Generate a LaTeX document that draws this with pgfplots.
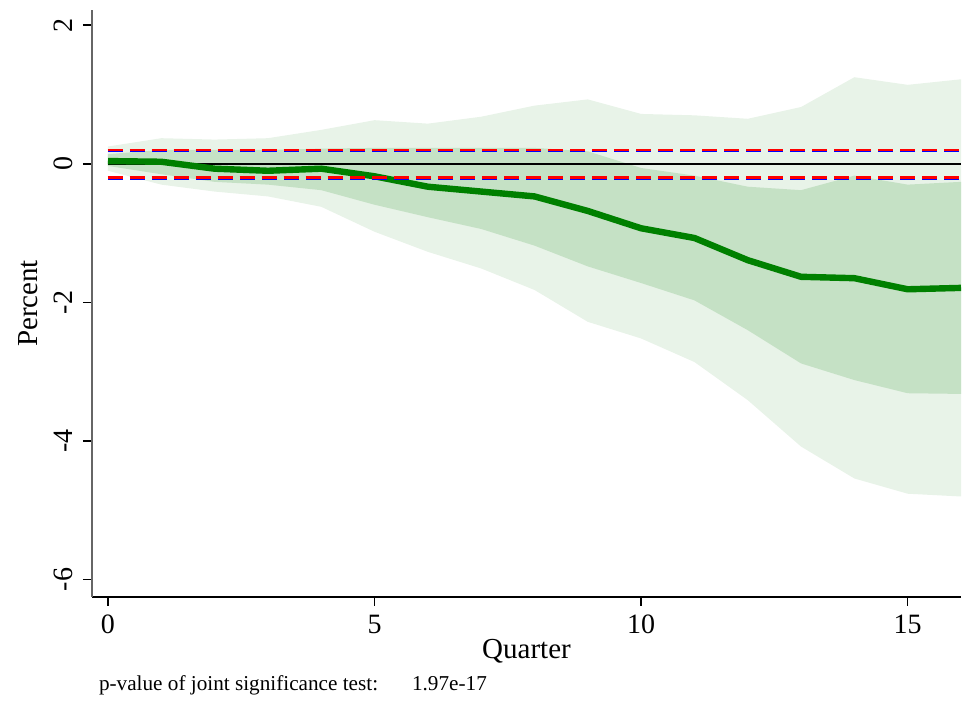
\documentclass[border=0pt]{standalone}
\usepackage{fontspec}
\setmainfont{Liberation Serif}
\usepackage{pgfplots}
\pgfplotsset{compat=1.18}
\usepgfplotslibrary{fillbetween}
\usepackage{pgfplotstable}

\definecolor{bandout}{HTML}{E8F3E8}
\definecolor{bandin}{HTML}{C5E1C5}
\definecolor{irfgreen}{HTML}{008000}

% quarter, response, inner band (lo/hi), outer band (lo/hi)
\pgfplotstableread{
q   irf    il     ih     ol     oh
0   0.04  -0.03   0.14  -0.10   0.25
1   0.03  -0.15   0.20  -0.30   0.37
2  -0.07  -0.26   0.20  -0.40   0.35
3  -0.10  -0.30   0.20  -0.47   0.37
4  -0.07  -0.38   0.22  -0.62   0.49
5  -0.18  -0.59   0.23  -0.98   0.63
6  -0.33  -0.77   0.23  -1.27   0.58
7  -0.40  -0.94   0.23  -1.51   0.68
8  -0.47  -1.18   0.23  -1.82   0.84
9  -0.68  -1.48   0.18  -2.28   0.93
10 -0.93  -1.72  -0.06  -2.52   0.72
11 -1.07  -1.97  -0.17  -2.86   0.70
12 -1.39  -2.40  -0.33  -3.41   0.65
13 -1.63  -2.88  -0.38  -4.08   0.82
14 -1.65  -3.12  -0.17  -4.54   1.25
15 -1.81  -3.31  -0.30  -4.76   1.14
16 -1.79  -3.32  -0.26  -4.80   1.22
}\irf

\begin{document}
\begin{tikzpicture}
\begin{axis}[
    name=ax,
    scale only axis,
    width=434.5pt, height=293.5pt,
    xmin=-0.3, xmax=16,
    ymin=-6.25, ymax=2.22,
    axis x line=bottom, axis y line=left,
    axis line style={-},
    x axis line style={black, line width=0.9pt},
    y axis line style={black!60, line width=1pt},
    xtick={0,5,10,15},
    ytick={-6,-4,-2,0,2},
    tick align=outside,
    major tick length=4.5pt,
    tick style={black, line width=0.8pt},
    ticklabel style={font=\fontsize{14}{16}\selectfont},
    xticklabel style={yshift=-1pt},
    yticklabel style={rotate=90, anchor=south, yshift=1.5pt},
    /pgf/number format/assume math mode=true,
    xlabel={Quarter},
    ylabel={Percent},
    label style={font=\fontsize{14.5}{16}\selectfont},
    xlabel style={yshift=4pt},
    ylabel style={yshift=1.5pt},
    clip=false,
]
\addplot[draw=none, name path=oh] table[x=q, y=oh] {\irf};
\addplot[draw=none, name path=ol] table[x=q, y=ol] {\irf};
\addplot[draw=none, name path=ih] table[x=q, y=ih] {\irf};
\addplot[draw=none, name path=il] table[x=q, y=il] {\irf};
\addplot[bandout] fill between[of=oh and ol];
\addplot[bandin] fill between[of=ih and il];

\addplot[black, line width=1pt] coordinates {(0,0) (16,0)};
\addplot[irfgreen, line width=3.2pt, line join=round] table[x=q, y=irf] {\irf};

\addplot[blue, line width=1.6pt, dash pattern=on 7.5pt off 3.5pt] coordinates {(0,0.195) (16,0.195)};
\addplot[red, line width=1.2pt, dash pattern=on 7.5pt off 3.5pt] coordinates {(0,0.203) (16,0.203)};
\addplot[blue, line width=1.6pt, dash pattern=on 7.5pt off 3.5pt] coordinates {(0,-0.205) (16,-0.205)};
\addplot[red, line width=1.2pt, dash pattern=on 7.5pt off 3.5pt] coordinates {(0,-0.197) (16,-0.197)};
\end{axis}
\node[anchor=base west, font=\fontsize{10.6}{12}\selectfont]
    at ([xshift=0pt, yshift=-47pt]ax.south west)
    {p-value of joint significance test:\hspace{1.6em}1.97e-17};
\path ([xshift=-46pt, yshift=-50.5pt]ax.south west)
    rectangle ([xshift=3.5pt, yshift=5pt]ax.north east);
\end{tikzpicture}
\end{document}
